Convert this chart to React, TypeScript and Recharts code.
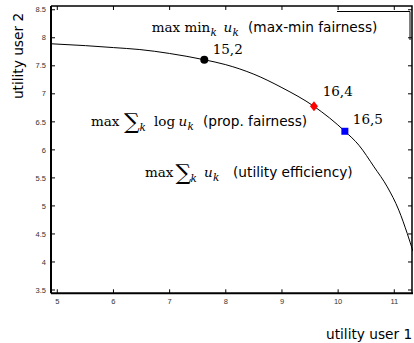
import React from 'react';
import { ComposedChart, Line, Scatter, XAxis, YAxis } from 'recharts';

// Pareto boundary (utility user 1 vs utility user 2)
const curveX = [4.888, 5.5, 6.0, 6.47, 7.0, 7.617, 8.0, 8.5, 9.0, 9.57, 10.12, 10.37, 10.64, 10.875, 11.08, 11.23, 11.333];
const curveY = [7.893, 7.86, 7.825, 7.79, 7.72, 7.608, 7.52, 7.35, 7.11, 6.777, 6.332, 6.083, 5.696, 5.34, 4.925, 4.51, 4.19];

// operating points
const pointX = [7.617, 9.57, 10.12];
const pointY = [7.608, 6.777, 6.332];
const pointLabels = ['15,2', '16,4', '16,5'];

const xTicks = [5, 6, 7, 8, 9, 10, 11];
const yTicks = [3.5, 4, 4.5, 5, 5.5, 6, 6.5, 7, 7.5, 8, 8.5];

const X_DOMAIN: [number, number] = [4.888, 11.333];
const Y_DOMAIN: [number, number] = [3.441, 8.567];

// chart geometry
const W = 414;
const H = 343;
const MARGIN = { top: 6, right: 1, bottom: 29.7, left: 11 };
const X_AXIS_H = 20;
const Y_AXIS_W = 40;
const PLOT = {
  left: MARGIN.left + Y_AXIS_W,
  right: W - MARGIN.right,
  top: MARGIN.top,
  bottom: H - MARGIN.bottom - X_AXIS_H,
};
const sx = (v: number) =>
  PLOT.left + ((v - X_DOMAIN[0]) / (X_DOMAIN[1] - X_DOMAIN[0])) * (PLOT.right - PLOT.left);
const sy = (v: number) =>
  PLOT.bottom - ((v - Y_DOMAIN[0]) / (Y_DOMAIN[1] - Y_DOMAIN[0])) * (PLOT.bottom - PLOT.top);

const curveData = curveX.map((x, i) => ({ x, y: curveY[i] }));
const pointData = pointX.map((x, i) => ({ x, y: pointY[i], label: pointLabels[i] }));

const SERIF = 'DejaVu Serif';
const SANS = 'DejaVu Sans';
const TICK_FONT = { fontSize: 7.5, fill: '#333', fontFamily: 'Liberation Sans' };
const SUB = 10.5;

const labelOffsets = [
  { dx: 8.4, dy: -6 },
  { dx: 8.7, dy: -10 },
  { dx: 8, dy: -7 },
];

const makeShape = (idx: number) => (props: any) => {
  const { cx, cy, payload } = props;
  const off = labelOffsets[idx];
  let marker: React.ReactNode = null;
  if (idx === 0) marker = <circle cx={cx} cy={cy} r={4} fill="#000" />;
  if (idx === 1)
    marker = (
      <polygon
        points={`${cx},${cy - 5} ${cx + 4},${cy} ${cx},${cy + 5} ${cx - 4},${cy}`}
        fill="#ff0000"
      />
    );
  if (idx === 2) marker = <rect x={cx - 3.5} y={cy - 3.5} width={7} height={7} fill="#0000ff" />;
  return (
    <g>
      {marker}
      <text x={cx + off.dx} y={cy + off.dy} fontFamily={SERIF} fontSize={13.5} fill="#000">
        {payload.label}
      </text>
    </g>
  );
};

const Overlay = () => (
  <svg
    width={W}
    height={H}
    viewBox={`0 0 ${W} ${H}`}
    style={{ position: 'absolute', left: 0, top: 0, pointerEvents: 'none', overflow: 'visible' }}
  >
    {/* top and right frame with inward ticks */}
    <polyline
      points={`${PLOT.left},${PLOT.top} ${PLOT.right - 1},${PLOT.top} ${PLOT.right - 1},${PLOT.bottom}`}
      fill="none"
      stroke="#000"
      strokeWidth={1.5}
    />
    {xTicks.map((t) => (
      <polyline
        key={`tx${t}`}
        points={`${sx(t)},${PLOT.top} ${sx(t)},${PLOT.top + 4}`}
        fill="none"
        stroke="#000"
        strokeWidth={1}
      />
    ))}
    {yTicks.map((t) => (
      <polyline
        key={`ty${t}`}
        points={`${PLOT.right - 1},${sy(t)} ${PLOT.right - 5},${sy(t)}`}
        fill="none"
        stroke="#000"
        strokeWidth={1}
      />
    ))}

    {/* partial box at top right */}
    <polyline points="337,11.5 410,11.5 410,40" fill="none" stroke="#000" strokeWidth={1} />

    {/* max min_k u_k (max-min fairness) */}
    <text fontFamily={SERIF} fontSize={13.5} fill="#000" x={151.7} y={32}>max min</text>
    <text fontFamily={SERIF} fontStyle="italic" fontSize={SUB} fill="#000" x={210.5} y={35.5}>k</text>
    <text fontFamily={SERIF} fontStyle="italic" fontSize={13.5} fill="#000" x={223.5} y={32}>u</text>
    <text fontFamily={SERIF} fontStyle="italic" fontSize={SUB} fill="#000" x={232.5} y={35.5}>k</text>
    <text fontFamily={SANS} fontSize={13.7} fill="#000" x={248} y={32}>(max-min fairness)</text>

    {/* max sum_k log u_k (prop. fairness) */}
    <text fontFamily={SERIF} fontSize={13.5} fill="#000" x={91} y={126}>max</text>
    <text fontFamily={SERIF} fontSize={22} fill="#000" x={124} y={129.4}>∑</text>
    <text fontFamily={SERIF} fontStyle="italic" fontSize={SUB} fill="#000" x={139.5} y={131}>k</text>
    <text fontFamily={SERIF} fontSize={13.5} fill="#000" x={154} y={126}>log</text>
    <text fontFamily={SERIF} fontStyle="italic" fontSize={13.5} fill="#000" x={178.5} y={126}>u</text>
    <text fontFamily={SERIF} fontStyle="italic" fontSize={SUB} fill="#000" x={187.5} y={129.5}>k</text>
    <text fontFamily={SANS} fontSize={13.7} fill="#000" x={203} y={126}>(prop. fairness)</text>

    {/* max sum_k u_k (utility efficiency) */}
    <text fontFamily={SERIF} fontSize={13.5} fill="#000" x={145} y={177}>max</text>
    <text fontFamily={SERIF} fontSize={22} fill="#000" x={175.5} y={180.4}>∑</text>
    <text fontFamily={SERIF} fontStyle="italic" fontSize={SUB} fill="#000" x={190.5} y={182}>k</text>
    <text fontFamily={SERIF} fontStyle="italic" fontSize={13.5} fill="#000" x={204} y={177}>u</text>
    <text fontFamily={SERIF} fontStyle="italic" fontSize={SUB} fill="#000" x={213} y={180.5}>k</text>
    <text fontFamily={SANS} fontSize={13.7} fill="#000" x={233} y={177}>(utility efficiency)</text>

    {/* axis titles */}
    <text
      fontFamily={SANS}
      fontSize={13.7}
      fill="#000"
      textAnchor="middle"
      transform="translate(23,56) rotate(-90)"
    >
      utility user 2
    </text>
    <text fontFamily={SANS} fontSize={13.7} fill="#000" x={326} y={339}>
      utility user 1
    </text>
  </svg>
);

export default function App() {
  return (
    <div style={{ position: 'absolute', left: 0, top: 0, width: W, height: H, background: '#fff' }}>
      <ComposedChart width={W} height={H} margin={MARGIN}>
        <XAxis
          type="number"
          dataKey="x"
          domain={X_DOMAIN}
          ticks={xTicks}
          allowDataOverflow
          height={X_AXIS_H}
          tickSize={-4}
          tickMargin={9}
          tick={TICK_FONT}
          axisLine={{ stroke: '#000', strokeWidth: 2 }}
          tickLine={{ stroke: '#000' }}
        />
        <YAxis
          type="number"
          dataKey="y"
          domain={Y_DOMAIN}
          ticks={yTicks}
          allowDataOverflow
          width={Y_AXIS_W}
          tickSize={-4}
          tickMargin={9}
          tick={TICK_FONT}
          axisLine={{ stroke: '#000', strokeWidth: 2 }}
          tickLine={{ stroke: '#000' }}
        />
        <Line
          data={curveData}
          dataKey="y"
          type="monotone"
          stroke="#000"
          strokeWidth={1}
          dot={false}
          isAnimationActive={false}
        />
        {pointData.map((p, i) => (
          <Scatter
            key={p.label}
            data={[p]}
            dataKey="y"
            shape={makeShape(i)}
            isAnimationActive={false}
          />
        ))}
      </ComposedChart>
      <Overlay />
    </div>
  );
}
